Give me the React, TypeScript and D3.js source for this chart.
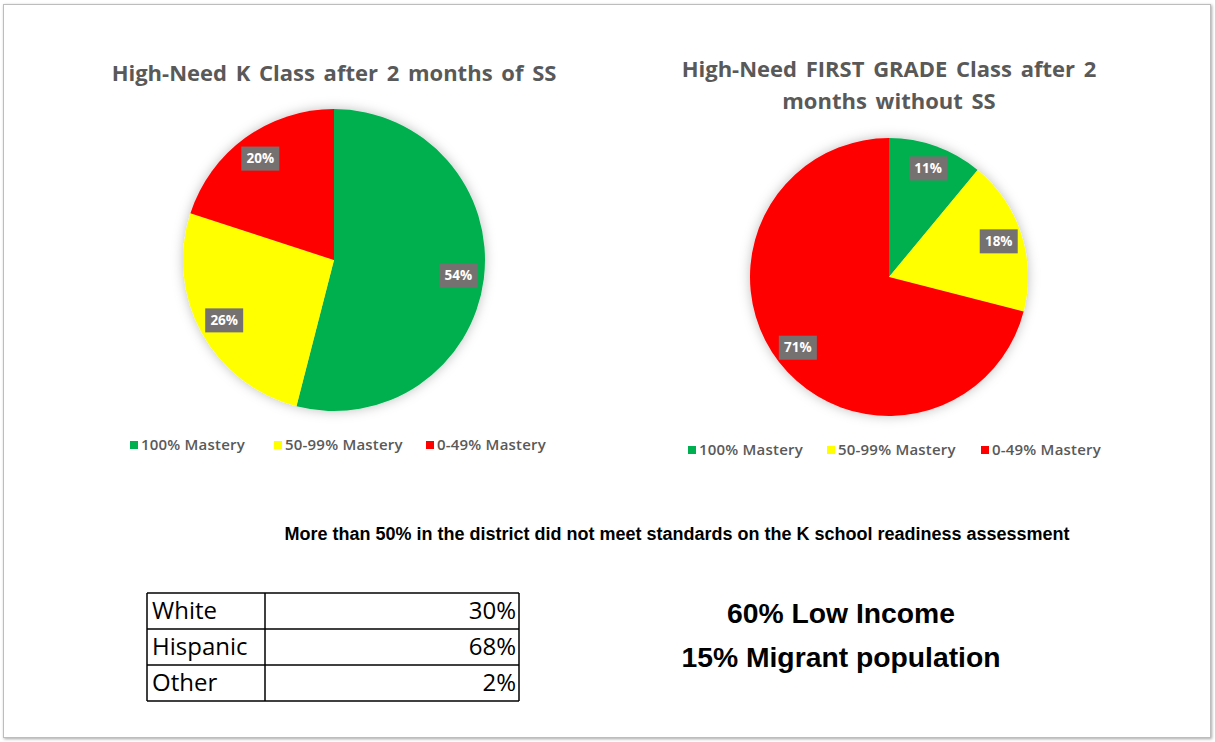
import React, { useEffect, useRef } from 'react'
import * as d3 from 'd3'

const categories = ['100% Mastery', '50-99% Mastery', '0-49% Mastery']
const colors = ['#00B050', '#FFFF00', '#FF0000']
const kValues = [54, 26, 20]
const firstValues = [11, 18, 71]
const kTitle = ['High-Need K Class after 2 months of SS']
const firstTitle = ['High-Need FIRST GRADE Class after 2', 'months without SS']
const note = 'More than 50% in the district did not meet standards on the K school readiness assessment'
const groups = ['White', 'Hispanic', 'Other']
const groupShares = ['30%', '68%', '2%']
const facts = ['60% Low Income', '15% Migrant population']

const W = 1215
const H = 742
const FONT = '"Open Sans", Lato, sans-serif'
const SANS = '"Liberation Sans", Arial, sans-serif'

function App() {
    const ref = useRef(null)

    useEffect(() => {
        draw()
    }, [])

    function drawPie(svg, cx, cy, r, values, title, titleY, legendY, legendX) {
        const pie = d3.pie().sort(null).value(d => d)
        const arc = d3.arc().innerRadius(0).outerRadius(r)
        const labelArc = d3.arc().innerRadius(r * 0.83).outerRadius(r * 0.83)

        svg.append('g')
            .selectAll('text')
            .data(title)
            .enter()
            .append('text')
            .attr('x', cx)
            .attr('y', (d, i) => titleY + i * 32)
            .attr('text-anchor', 'middle')
            .style('font-family', FONT)
            .style('font-weight', 'bold')
            .style('font-size', '22px')
            .style('word-spacing', '3px')
            .style('fill', '#595959')
            .text(d => d)

        const g = svg.append('g')
            .attr('transform', 'translate(' + cx + ',' + cy + ')')

        const arcs = pie(values)
        g.append('g')
            .attr('filter', 'url(#shadow)')
            .selectAll('path')
            .data(arcs)
            .enter()
            .append('path')
            .attr('d', arc)
            .style('fill', (d, i) => colors[i])

        const labels = g.selectAll('.lbl')
            .data(arcs)
            .enter()
            .append('g')
            .attr('transform', d => 'translate(' + labelArc.centroid(d) + ')')
        labels.append('rect')
            .attr('x', -19)
            .attr('y', -12)
            .attr('width', 38)
            .attr('height', 24)
            .style('fill', '#767171')
        labels.append('text')
            .attr('text-anchor', 'middle')
            .attr('dy', '0.35em')
            .style('font-family', FONT)
            .style('font-weight', 'bold')
            .style('font-size', '13.5px')
            .style('fill', '#ffffff')
            .text(d => d.data + '%')

        const legend = svg.append('g')
            .selectAll('g')
            .data(categories)
            .enter()
            .append('g')
            .attr('transform', (d, i) => 'translate(' + legendX[i] + ',' + legendY + ')')
        legend.append('rect')
            .attr('x', 0)
            .attr('y', -4)
            .attr('width', 8)
            .attr('height', 8)
            .style('fill', (d, i) => colors[i])
        legend.append('text')
            .attr('x', 11)
            .attr('dy', '0.35em')
            .style('font-family', FONT)
            .style('font-weight', 600)
            .style('font-size', '15px')
            .style('letter-spacing', '0.2px')
            .style('fill', '#595959')
            .text(d => d)
    }

    function draw() {
        d3.select(ref.current).selectAll('*').remove()

        const svg = d3.select(ref.current)
            .append('svg')
            .attr('width', W)
            .attr('height', H)
            .style('position', 'absolute')
            .style('left', 0)
            .style('top', 0)

        const defs = svg.append('defs')
        const f = defs.append('filter').attr('id', 'shadow')
            .attr('x', '-20%').attr('y', '-20%').attr('width', '140%').attr('height', '140%')
        f.append('feDropShadow')
            .attr('dx', 0).attr('dy', 0).attr('stdDeviation', 6)
            .attr('flood-color', '#000').attr('flood-opacity', 0.25)
        const fb = defs.append('filter').attr('id', 'frame')
            .attr('x', '-5%').attr('y', '-5%').attr('width', '110%').attr('height', '110%')
        fb.append('feDropShadow')
            .attr('dx', 1).attr('dy', 1).attr('stdDeviation', 1.5)
            .attr('flood-color', '#000').attr('flood-opacity', 0.35)

        svg.append('rect')
            .attr('x', 0).attr('y', 0).attr('width', W).attr('height', H)
            .style('fill', '#ffffff')

        svg.append('rect')
            .attr('x', 3.5).attr('y', 4.5).attr('width', 1207).attr('height', 733)
            .style('fill', '#ffffff')
            .style('stroke', '#bdbdbd')
            .style('stroke-width', 1)
            .attr('filter', 'url(#frame)')

        drawPie(svg, 334, 260, 151, kValues, kTitle, 81, 445, [130, 274, 426])
        drawPie(svg, 889, 277, 139, firstValues, firstTitle, 77, 450, [688, 827, 981])

        svg.append('text')
            .attr('x', 677)
            .attr('y', 540)
            .attr('text-anchor', 'middle')
            .style('font-family', SANS)
            .style('font-weight', 'bold')
            .style('font-size', '18px')
            .style('fill', '#000')
            .text(note)

        svg.append('g')
            .selectAll('text')
            .data(facts)
            .enter()
            .append('text')
            .attr('x', 841)
            .attr('y', (d, i) => 623 + i * 44)
            .attr('text-anchor', 'middle')
            .style('font-family', SANS)
            .style('font-weight', 'bold')
            .style('font-size', '28.3px')
            .style('fill', '#000')
            .text(d => d)

        const tx0 = 147, tx1 = 265, tx2 = 519
        const rowH = 36
        const ty0 = 593
        const y = d3.scaleBand().domain(groups).range([ty0, ty0 + rowH * groups.length])
        const table = svg.append('g')
        table.selectAll('.row')
            .data(groups)
            .enter()
            .append('line')
            .attr('x1', tx0).attr('x2', tx2)
            .attr('y1', d => y(d) + rowH).attr('y2', d => y(d) + rowH)
            .style('stroke', '#000').style('stroke-width', 1.5)
        table.append('line')
            .attr('x1', tx0).attr('x2', tx2).attr('y1', ty0).attr('y2', ty0)
            .style('stroke', '#000').style('stroke-width', 1.5)
        ;[tx0, tx1, tx2].forEach(x => {
            table.append('line')
                .attr('x1', x).attr('x2', x)
                .attr('y1', ty0).attr('y2', ty0 + rowH * groups.length)
                .style('stroke', '#000').style('stroke-width', 1.5)
        })
        table.selectAll('.name')
            .data(groups)
            .enter()
            .append('text')
            .attr('x', tx0 + 5)
            .attr('y', d => y(d) + rowH / 2)
            .attr('dy', '0.35em')
            .style('font-family', FONT)
            .style('font-size', '24px')
            .style('fill', '#000')
            .text(d => d)
        table.selectAll('.share')
            .data(groupShares)
            .enter()
            .append('text')
            .attr('x', tx2 - 3)
            .attr('y', (d, i) => y(groups[i]) + rowH / 2)
            .attr('dy', '0.35em')
            .attr('text-anchor', 'end')
            .style('font-family', FONT)
            .style('font-size', '24px')
            .style('fill', '#000')
            .text(d => d)
    }

    return (
        <div>
            <div ref={ref}></div>
        </div>
    )
}

export default App
